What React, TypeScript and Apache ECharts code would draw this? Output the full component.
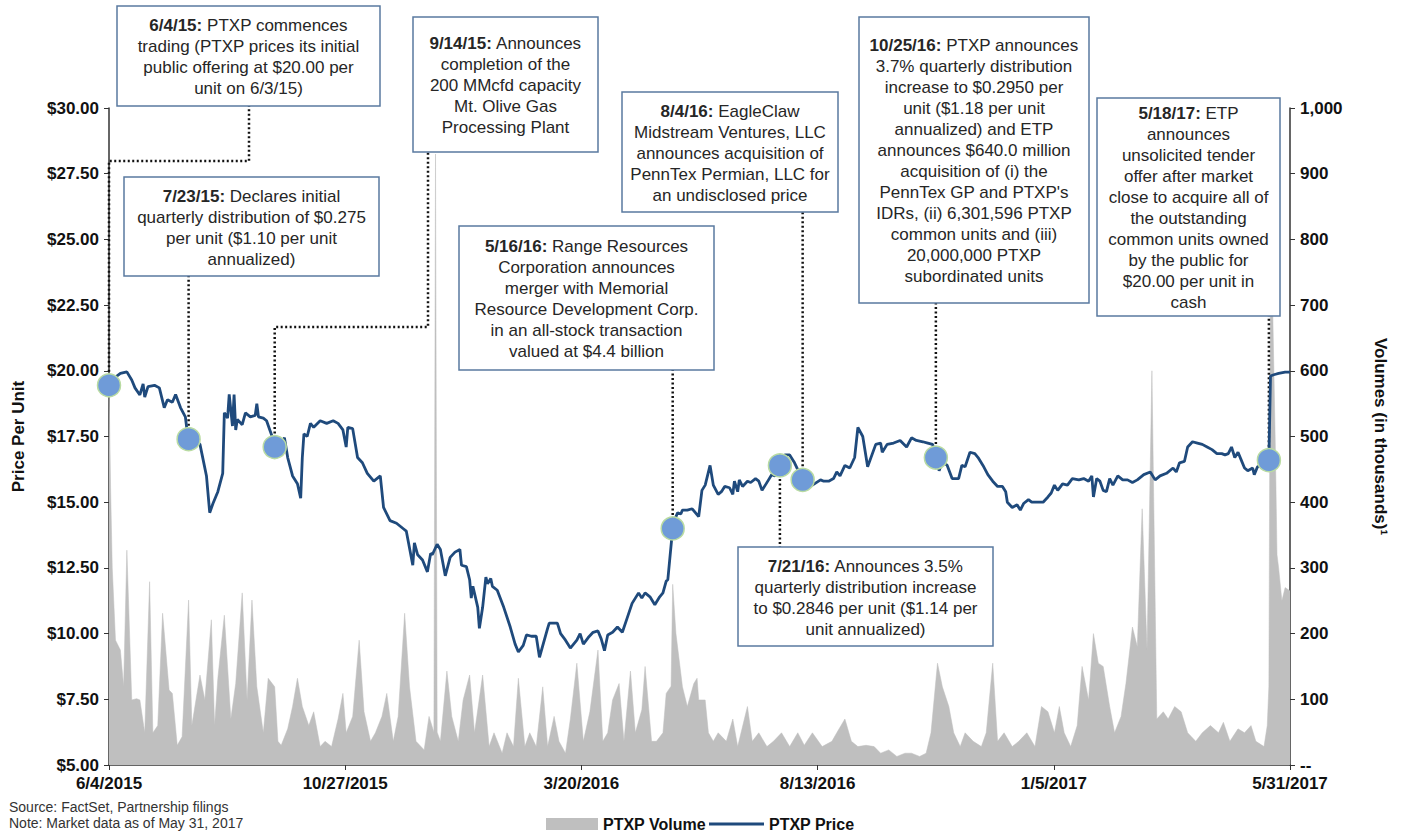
import { useEffect, useRef } from 'react';
import * as echarts from 'echarts';

const FONT = '"Liberation Sans", Arial, Helvetica, sans-serif';
const START_UTC = Date.UTC(2015, 5, 4); // 6/4/2015 = day 0
const DAY_MS = 86400000;

// ---- PTXP price (day offset from 6/4/2015, $ per unit) ----
const priceDays = [0, 4, 7, 11, 14, 16, 19, 21, 22, 24, 28, 31, 34, 36, 39, 41, 44, 47, 48, 49, 54, 56, 58, 60, 62, 64, 67, 70, 71, 73, 74, 76, 77, 78, 79, 82, 84, 87, 90, 91, 92, 95, 97, 99, 101, 102, 105, 108, 110, 113, 116, 118, 119, 120, 122, 124, 126, 130, 134, 138, 141, 144, 146, 147, 150, 153, 156, 159, 163, 167, 169, 173, 177, 181, 183, 187, 188, 190, 193, 196, 198, 199, 202, 204, 207, 210, 213, 216, 217, 220, 222, 223, 224, 227, 228, 230, 232, 233, 235, 236, 239, 243, 247, 250, 252, 255, 257, 260, 263, 265, 270, 271, 276, 278, 281, 284, 286, 288, 290, 292, 295, 298, 301, 303, 305, 307, 310, 313, 316, 319, 322, 324, 326, 328, 330, 333, 336, 339, 341, 343, 344, 347, 348, 350, 352, 353, 356, 359, 363, 365, 367, 370, 372, 375, 377, 379, 382, 384, 385, 387, 388, 390, 393, 395, 398, 400, 402, 404, 406, 408, 410, 413, 416, 419, 422, 427, 430, 433, 438, 440, 443, 446, 448, 450, 453, 456, 459, 461, 464, 467, 472, 475, 476, 479, 483, 487, 491, 494, 497, 501, 504, 507, 509, 511, 513, 516, 519, 523, 525, 527, 530, 533, 535, 538, 541, 544, 547, 550, 552, 553, 556, 559, 561, 563, 566, 568, 572, 575, 578, 580, 582, 584, 587, 590, 593, 597, 600, 603, 605, 606, 608, 610, 612, 614, 616, 618, 621, 624, 627, 630, 633, 637, 641, 644, 647, 651, 655, 657, 659, 662, 664, 667, 670, 673, 676, 679, 682, 685, 687, 689, 691, 693, 695, 697, 699, 701, 704, 705, 707, 709, 714, 715, 717, 720, 724, 727];
const priceValues = [19.45, 19.76, 19.9, 19.96, 19.65, 19.35, 19.08, 19.5, 19.0, 19.4, 19.45, 19.35, 18.6, 18.9, 18.8, 19.1, 18.6, 18.25, 17.75, 17.4, 17.3, 17.2, 16.6, 16.0, 14.6, 14.95, 15.4, 16.1, 18.4, 18.2, 19.1, 17.9, 19.1, 17.75, 18.15, 17.95, 18.4, 18.25, 18.3, 18.75, 18.25, 18.2, 18.1, 17.75, 17.4, 17.1, 17.2, 17.45, 16.7, 16.0, 15.7, 15.15, 16.7, 17.6, 17.5, 18.0, 17.85, 18.1, 18.0, 18.1, 18.0, 17.75, 17.1, 17.85, 17.8, 16.7, 16.5, 16.1, 15.8, 16.0, 14.8, 14.3, 14.2, 14.0, 13.9, 12.6, 13.45, 13.0, 12.8, 12.35, 13.05, 13.0, 13.4, 13.2, 12.2, 12.9, 13.1, 13.2, 12.6, 12.55, 12.05, 11.35, 11.8, 11.0, 10.2, 11.0, 12.15, 11.9, 12.1, 11.8, 11.65, 11.0, 10.25, 9.6, 9.3, 9.55, 9.95, 9.9, 9.9, 9.1, 10.2, 10.4, 10.4, 10.0, 9.75, 9.45, 9.6, 9.75, 10.0, 9.6, 9.85, 10.05, 10.1, 9.8, 9.35, 9.95, 10.05, 10.25, 10.05, 10.6, 11.15, 11.35, 11.55, 11.35, 11.55, 11.4, 11.1, 11.4, 11.55, 12.0, 12.05, 14.0, 14.3, 14.6, 14.55, 14.7, 14.7, 14.75, 14.45, 15.45, 15.65, 16.4, 15.65, 15.3, 15.4, 15.6, 15.55, 15.3, 15.8, 15.4, 15.85, 15.6, 15.8, 15.75, 15.9, 15.8, 15.45, 15.65, 15.85, 16.05, 16.0, 16.4, 16.8, 16.8, 16.5, 15.85, 15.55, 15.65, 15.85, 15.8, 15.8, 15.9, 16.15, 16.0, 16.4, 16.3, 16.7, 17.85, 17.5, 16.35, 17.2, 17.25, 16.9, 17.2, 17.25, 17.35, 17.1, 17.45, 17.35, 17.3, 17.25, 17.2, 16.7, 16.2, 16.55, 16.4, 15.9, 15.9, 16.4, 16.35, 16.9, 16.85, 16.7, 16.4, 16.05, 15.8, 15.6, 15.6, 15.4, 15.0, 14.8, 14.9, 14.7, 14.95, 15.1, 15.0, 15.0, 15.0, 15.2, 15.35, 15.65, 15.45, 15.7, 15.65, 15.9, 15.85, 15.9, 15.8, 16.0, 15.2, 15.9, 15.8, 15.45, 15.4, 15.9, 15.65, 16.0, 15.85, 15.85, 15.75, 15.85, 16.05, 16.15, 15.85, 16.0, 16.1, 16.3, 16.15, 16.5, 16.55, 17.1, 17.3, 17.25, 17.2, 17.1, 17.0, 16.85, 16.85, 16.8, 16.85, 17.1, 16.7, 16.9, 16.6, 16.3, 16.2, 16.3, 16.05, 16.35, 16.4, 16.6, 19.8, 19.85, 19.9, 19.95, 19.95];

// ---- PTXP volume (thousands of units) ----
const volumeDays = [0, 1, 2, 4, 7, 9, 11, 14, 17, 19, 22, 25, 27, 30, 33, 37, 39, 42, 45, 49, 51, 56, 59, 63, 65, 67, 71, 75, 78, 82, 85, 88, 91, 95, 98, 102, 104, 106, 110, 113, 116, 119, 123, 126, 130, 133, 137, 141, 144, 146, 150, 154, 157, 161, 164, 168, 171, 175, 178, 182, 185, 189, 194, 197, 200, 201, 202, 204, 208, 211, 215, 218, 222, 225, 230, 234, 237, 242, 245, 249, 252, 256, 259, 263, 267, 270, 274, 277, 281, 284, 288, 292, 296, 301, 304, 307, 310, 314, 317, 321, 324, 328, 330, 334, 337, 341, 343, 346, 347, 349, 353, 356, 360, 362, 363, 367, 369, 372, 375, 380, 384, 387, 393, 396, 400, 405, 409, 414, 419, 424, 428, 433, 439, 445, 448, 453, 457, 461, 466, 471, 475, 480, 485, 490, 494, 499, 503, 506, 510, 513, 517, 520, 524, 527, 532, 537, 540, 544, 547, 551, 556, 560, 565, 570, 574, 578, 582, 585, 588, 592, 596, 599, 603, 606, 609, 612, 616, 619, 623, 626, 630, 633, 636, 639, 642, 645, 649, 652, 656, 660, 664, 669, 673, 678, 683, 686, 690, 695, 699, 703, 706, 711, 713, 714, 715, 716, 718, 719, 720, 722, 724, 727];
const volumeValues = [580, 420, 300, 190, 175, 120, 327, 99, 101, 99, 49, 279, 49, 60, 231, 114, 109, 30, 43, 251, 60, 137, 99, 221, 60, 132, 228, 70, 124, 262, 99, 251, 119, 49, 132, 119, 36, 30, 55, 89, 132, 89, 60, 81, 28, 36, 28, 70, 109, 49, 74, 190, 81, 36, 49, 74, 109, 36, 74, 231, 119, 36, 23, 74, 50, 930, 50, 36, 143, 74, 36, 99, 137, 49, 137, 28, 49, 18, 49, 28, 132, 28, 49, 28, 119, 28, 74, 36, 18, 70, 155, 36, 81, 175, 36, 49, 99, 124, 36, 143, 49, 84, 150, 36, 36, 49, 109, 120, 275, 200, 119, 89, 124, 132, 99, 99, 49, 36, 49, 36, 70, 28, 89, 36, 49, 28, 36, 49, 28, 49, 30, 49, 28, 36, 49, 70, 36, 28, 30, 28, 18, 23, 13, 18, 18, 13, 18, 49, 155, 119, 89, 49, 28, 49, 36, 28, 49, 155, 36, 49, 28, 36, 49, 28, 89, 81, 49, 89, 49, 28, 60, 150, 99, 200, 155, 150, 89, 49, 74, 124, 210, 180, 390, 175, 600, 70, 81, 70, 89, 81, 49, 36, 49, 60, 49, 65, 36, 55, 49, 60, 36, 28, 60, 120, 790, 740, 480, 320, 300, 250, 270, 265];

// ---- events ----
const eventDays = [0, 49, 102, 347, 413, 427, 509, 714];
const eventPrices = [19.45, 17.4, 17.1, 14.0, 16.4, 15.85, 16.7, 16.6];
const eventTexts = [
  ['{b|6/4/15:} PTXP commences', 'trading (PTXP prices its initial', 'public offering at $20.00 per', 'unit on 6/3/15)'],
  ['{b|7/23/15:} Declares initial', 'quarterly distribution of $0.275', 'per unit ($1.10 per unit', 'annualized)'],
  ['{b|9/14/15:} Announces', 'completion of the', '200 MMcfd capacity', 'Mt. Olive Gas', 'Processing Plant'],
  ['{b|5/16/16:} Range Resources', 'Corporation announces', 'merger with Memorial', 'Resource Development Corp.', 'in an all-stock transaction', 'valued at $4.4 billion'],
  ['{b|7/21/16:} Announces 3.5%', 'quarterly distribution increase', 'to $0.2846 per unit ($1.14 per', 'unit annualized)'],
  ['{b|8/4/16:} EagleClaw', 'Midstream Ventures, LLC', 'announces acquisition of', 'PennTex Permian, LLC for', 'an undisclosed price'],
  ['{b|10/25/16:} PTXP announces', '3.7% quarterly distribution', 'increase to $0.2950 per', 'unit ($1.18 per unit', 'annualized) and ETP', 'announces $640.0 million', 'acquisition of (i) the', "PennTex GP and PTXP's", 'IDRs, (ii) 6,301,596 PTXP', 'common units and (iii)', '20,000,000 PTXP', 'subordinated units'],
  ['{b|5/18/17:} ETP', 'announces', 'unsolicited tender', 'offer after market', 'close to acquire all of', 'the outstanding', 'common units owned', 'by the public for', '$20.00 per unit in', 'cash'],
];

// annotation box layout (pixels) and connector routing
const boxLayout = [
  { x: 117, y: 6, w: 263, h: 100, elbowY: 161, anchorX: 249 },
  { x: 124, y: 177, w: 255, h: 99 },
  { x: 413, y: 17, w: 185, h: 135, elbowY: 327, anchorX: 428 },
  { x: 459, y: 226, w: 255, h: 144 },
  { x: 738, y: 547, w: 255, h: 99, below: true },
  { x: 622, y: 92, w: 216, h: 120 },
  { x: 859, y: 17, w: 230, h: 286 },
  { x: 1097, y: 98, w: 183, h: 218 },
];

const fmtDate = (v: number) => {
  const d = new Date(START_UTC + Math.floor(v + 1e-6) * DAY_MS);
  return `${d.getUTCMonth() + 1}/${d.getUTCDate()}/${d.getUTCFullYear()}`;
};

export default function App() {
  const ref = useRef<HTMLDivElement>(null);
  useEffect(() => {
    if (!ref.current) return;
    const chart = echarts.init(ref.current, undefined, { renderer: 'svg' });
    const axisLabelStyle = { fontFamily: FONT, fontWeight: 'bold' as const, fontSize: 17, color: '#111' };
    const nameStyle = { fontFamily: FONT, fontWeight: 'bold' as const, fontSize: 17, color: '#111' };
    const legendText = { fontFamily: FONT, fontWeight: 'bold' as const, fontSize: 16, color: '#111' };
    const option: any = {
      animation: false,
      backgroundColor: '#fff',
      grid: { left: 109, right: 114, top: 108, bottom: 67, containLabel: false },
      legend: [
        {
          left: 541,
          top: 811,
          itemWidth: 52,
          itemHeight: 12,
          itemGap: 0,
          textStyle: legendText,
          data: [{ name: 'PTXP Volume', icon: 'rect' }],
        },
        {
          left: 704,
          top: 811,
          itemWidth: 55,
          itemHeight: 3,
          itemGap: 0,
          textStyle: legendText,
          data: [{ name: 'PTXP Price', icon: 'rect' }],
        },
      ],
      xAxis: {
        type: 'value',
        min: 0,
        max: 727,
        interval: 145.4,
        axisLine: { show: true, lineStyle: { color: '#333', width: 1.5 } },
        axisTick: { show: true, length: 5, lineStyle: { color: '#333' } },
        splitLine: { show: false },
        axisLabel: { ...axisLabelStyle, margin: 10, showMinLabel: true, showMaxLabel: true, formatter: (v: number) => fmtDate(v) },
      },
      yAxis: [
        {
          type: 'value',
          min: 5,
          max: 30,
          interval: 2.5,
          position: 'left',
          name: 'Price Per Unit',
          nameLocation: 'middle',
          nameGap: 82,
          nameTextStyle: nameStyle,
          axisLine: { show: true, lineStyle: { color: '#333', width: 1.5 } },
          axisTick: { show: true, length: 5, lineStyle: { color: '#333' } },
          splitLine: { show: false },
          axisLabel: { ...axisLabelStyle, margin: 10, formatter: (v: number) => '$' + v.toFixed(2) },
        },
        {
          type: 'value',
          min: 0,
          max: 1000,
          interval: 100,
          position: 'right',
          name: 'Volumes (in thousands)\u00b9',
          nameLocation: 'middle',
          nameRotate: -90,
          nameGap: 82,
          nameTextStyle: nameStyle,
          axisLine: { show: true, lineStyle: { color: '#333', width: 1.5 } },
          axisTick: { show: true, length: 5, lineStyle: { color: '#333' } },
          splitLine: { show: false },
          axisLabel: { ...axisLabelStyle, margin: 10, formatter: (v: number) => (v === 0 ? '--' : v.toLocaleString('en-US')) },
        },
      ],
      series: [
        {
          name: 'PTXP Volume',
          type: 'line',
          yAxisIndex: 1,
          z: 1,
          symbol: 'none',
          lineStyle: { width: 0.5, color: '#bfbfbf' },
          itemStyle: { color: '#bfbfbf' },
          areaStyle: { color: '#bfbfbf', opacity: 1 },
          data: volumeDays.map((d, i) => [d, volumeValues[i]]),
        },
        {
          name: 'PTXP Price',
          type: 'line',
          yAxisIndex: 0,
          z: 3,
          symbol: 'none',
          lineStyle: { width: 2.8, color: '#1f4a7c' },
          itemStyle: { color: '#1f4a7c' },
          data: priceDays.map((d, i) => [d, priceValues[i]]),
        },
        {
          name: 'Events',
          type: 'scatter',
          yAxisIndex: 0,
          z: 4,
          symbolSize: 23,
          itemStyle: { color: '#6f9bd8', borderColor: '#b9dba2', borderWidth: 1.5, opacity: 1 },
          data: eventDays.map((d, i) => [d, eventPrices[i]]),
        },
      ],
    };
    chart.setOption(option);

    const graphics: any[] = [];
    eventDays.forEach((d, i) => {
      const b = boxLayout[i];
      const p = chart.convertToPixel({ xAxisIndex: 0, yAxisIndex: 0 }, [d, eventPrices[i]]) as number[];
      let pts: number[][];
      if (b.elbowY !== undefined) {
        pts = [[p[0], p[1]], [p[0], b.elbowY], [b.anchorX as number, b.elbowY], [b.anchorX as number, b.y + b.h]];
      } else if (b.below) {
        pts = [[p[0], p[1]], [p[0], b.y]];
      } else {
        pts = [[p[0], p[1]], [p[0], b.y + b.h]];
      }
      graphics.push({
        type: 'polyline',
        z: 2,
        shape: { points: pts },
        style: { stroke: '#111', lineWidth: 2.5, lineDash: [2, 2.5], fill: null },
        silent: true,
      });
      graphics.push({
        type: 'rect',
        z: 10,
        shape: { x: b.x, y: b.y, width: b.w, height: b.h },
        style: { fill: '#fff', stroke: '#5a7aa0', lineWidth: 1.5 },
        silent: true,
      });
      graphics.push({
        type: 'text',
        z: 11,
        x: b.x + b.w / 2,
        y: b.y + b.h / 2 + 1,
        style: {
          text: eventTexts[i].join('\n'),
          align: 'center',
          verticalAlign: 'middle',
          fontFamily: FONT,
          fontSize: 17,
          lineHeight: 21,
          fill: '#262626',
          rich: { b: { fontFamily: FONT, fontSize: 17, lineHeight: 21, fontWeight: 'bold', fill: '#262626' } },
        },
        silent: true,
      });
    });
    graphics.push({
      type: 'text',
      z: 11,
      left: 9,
      top: 799,
      style: {
        text: 'Source: FactSet, Partnership filings\nNote: Market data as of May 31, 2017',
        fontFamily: FONT,
        fontSize: 14,
        lineHeight: 16,
        fill: '#333',
      },
    });
    chart.setOption({ graphic: graphics });

    return () => chart.dispose();
  }, []);
  return <div ref={ref} style={{ position: 'fixed', left: 0, top: 0, width: 1404, height: 832 }} />;
}
